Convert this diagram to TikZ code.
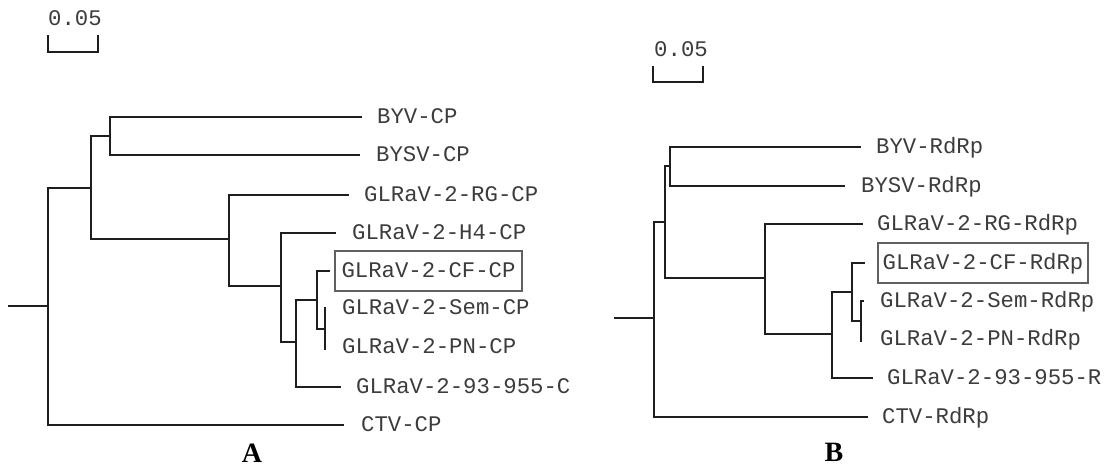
\documentclass[tikz,border=0pt]{standalone}
\usepackage{fontspec}
\setmainfont{Liberation Serif}
\newfontfamily\labfont{Liberation Mono}
\definecolor{linec}{HTML}{1E1E1E}
\definecolor{textc}{HTML}{3C3C3C}
\definecolor{boxc}{HTML}{606060}
\begin{document}
\begin{tikzpicture}[x=1pt,y=-1pt,
  br/.style={draw=linec,line width=2.4pt,line cap=rect},
  bar/.style={draw=linec,line width=2.4pt,line cap=rect},
  leaf/.style={anchor=west,inner sep=0pt,text=textc,font=\labfont\fontsize{22.3}{26}\selectfont,text height=16.8pt,text depth=4pt},
  boxed/.style={draw=boxc,line width=1.4pt,inner sep=0pt,text=textc,font=\labfont\fontsize{22.3}{26}\selectfont,text height=16.8pt,text depth=4pt,minimum height=40pt},
  scalelab/.style={inner sep=0pt,text=textc,font=\labfont\fontsize{22.3}{26}\selectfont,text height=16.8pt,text depth=4pt},
  panel/.style={anchor=base,inner sep=0pt,text=black,font=\bfseries\fontsize{28}{30}\selectfont}]
\useasboundingbox (0,0) rectangle (1105,469);

% ---------------- Tree A ----------------
% scale bar
\coordinate (sa1) at (48,36);
\coordinate (sa2) at (48,52);
\coordinate (sa3) at (98,52);
\coordinate (sa4) at (98,36);
\draw[bar] (sa1) -- (sa2) -- (sa3) -- (sa4);
\node[scalelab] (scA) at (75,19) {0.05};

% internal nodes
\coordinate (stA) at (9,306);
\coordinate (rA) at (48,306);
\coordinate (n1) at (91,188);
\coordinate (n2) at (110,136);
\coordinate (n3) at (229,239);
\coordinate (n4) at (281,286);
\coordinate (n5) at (296,342);
\coordinate (n6) at (317,300);
\coordinate (n7) at (325,329);
% tips
\coordinate (tA1) at (361,117);
\coordinate (tA2) at (359,155);
\coordinate (tA3) at (348,195);
\coordinate (tA4) at (335,233);
\coordinate (tA5) at (329,271);
\coordinate (tA6) at (325,308);
\coordinate (tA7) at (325,349);
\coordinate (tA8) at (340,387);
\coordinate (tA9) at (343,425);

\draw[br] (stA) -- (rA);
\draw[br] (rA) |- (n1);
\draw[br] (rA) |- (tA9);
\draw[br] (n1) |- (n2);
\draw[br] (n1) |- (n3);
\draw[br] (n2) |- (tA1);
\draw[br] (n2) |- (tA2);
\draw[br] (n3) |- (tA3);
\draw[br] (n3) |- (n4);
\draw[br] (n4) |- (tA4);
\draw[br] (n4) |- (n5);
\draw[br] (n5) |- (n6);
\draw[br] (n5) |- (tA8);
\draw[br] (n6) |- (tA5);
\draw[br] (n6) |- (n7);
\draw[br] (n7) |- (tA6);
\draw[br] (n7) |- (tA7);

\node[leaf] (lA1) at (377,117) {BYV-CP};
\node[leaf] (lA2) at (376,155) {BYSV-CP};
\node[leaf] (lA3) at (364,195) {GLRaV-2-RG-CP};
\node[leaf] (lA4) at (352,233) {GLRaV-2-H4-CP};
\node[boxed,minimum width=187pt] (lA5) at (428.5,271) {GLRaV-2-CF-CP};
\node[leaf] (lA6) at (342,308) {GLRaV-2-Sem-CP};
\node[leaf] (lA7) at (342,347) {GLRaV-2-PN-CP};
\node[leaf] (lA8) at (356,387) {GLRaV-2-93-955-C};
\node[leaf] (lA9) at (361,425) {CTV-CP};

\node[panel] (pA) at (252,462) {A};

% ---------------- Tree B ----------------
\coordinate (sb1) at (653,67);
\coordinate (sb2) at (653,82);
\coordinate (sb3) at (703,82);
\coordinate (sb4) at (703,67);
\draw[bar] (sb1) -- (sb2) -- (sb3) -- (sb4);
\node[scalelab] (scB) at (681,50) {0.05};

\coordinate (stB) at (615,318);
\coordinate (rB) at (654,318);
\coordinate (m1) at (665,222);
\coordinate (m2) at (670,166);
\coordinate (m3) at (765,278);
\coordinate (m4) at (832,334);
\coordinate (m5) at (852,292);
\coordinate (m6) at (861,321);

\coordinate (tB1) at (860,147);
\coordinate (tB2) at (844,186);
\coordinate (tB3) at (862,224);
\coordinate (tB4) at (864,263);
\coordinate (tB5) at (863,301);
\coordinate (tB6) at (861,341);
\coordinate (tB7) at (872,378);
\coordinate (tB8) at (867,417);

\draw[br] (stB) -- (rB);
\draw[br] (rB) |- (m1);
\draw[br] (rB) |- (tB8);
\draw[br] (m1) |- (m2);
\draw[br] (m1) |- (m3);
\draw[br] (m2) |- (tB1);
\draw[br] (m2) |- (tB2);
\draw[br] (m3) |- (tB3);
\draw[br] (m3) |- (m4);
\draw[br] (m4) |- (m5);
\draw[br] (m4) |- (tB7);
\draw[br] (m5) |- (tB4);
\draw[br] (m5) |- (m6);
\draw[br] (m6) |- (tB5);
\draw[br] (m6) |- (tB6);

\node[leaf] (lB1) at (876,147) {BYV-RdRp};
\node[leaf] (lB2) at (861,186) {BYSV-RdRp};
\node[leaf] (lB3) at (877,224) {GLRaV-2-RG-RdRp};
\node[boxed,minimum width=210pt] (lB4) at (983,263) {GLRaV-2-CF-RdRp};
\node[leaf] (lB5) at (880,301) {GLRaV-2-Sem-RdRp};
\node[leaf] (lB6) at (880,339) {GLRaV-2-PN-RdRp};
\node[leaf] (lB7) at (887,378) {GLRaV-2-93-955-R};
\node[leaf] (lB8) at (882,417) {CTV-RdRp};

\node[panel] (pB) at (834,461) {B};
\end{tikzpicture}
\end{document}
